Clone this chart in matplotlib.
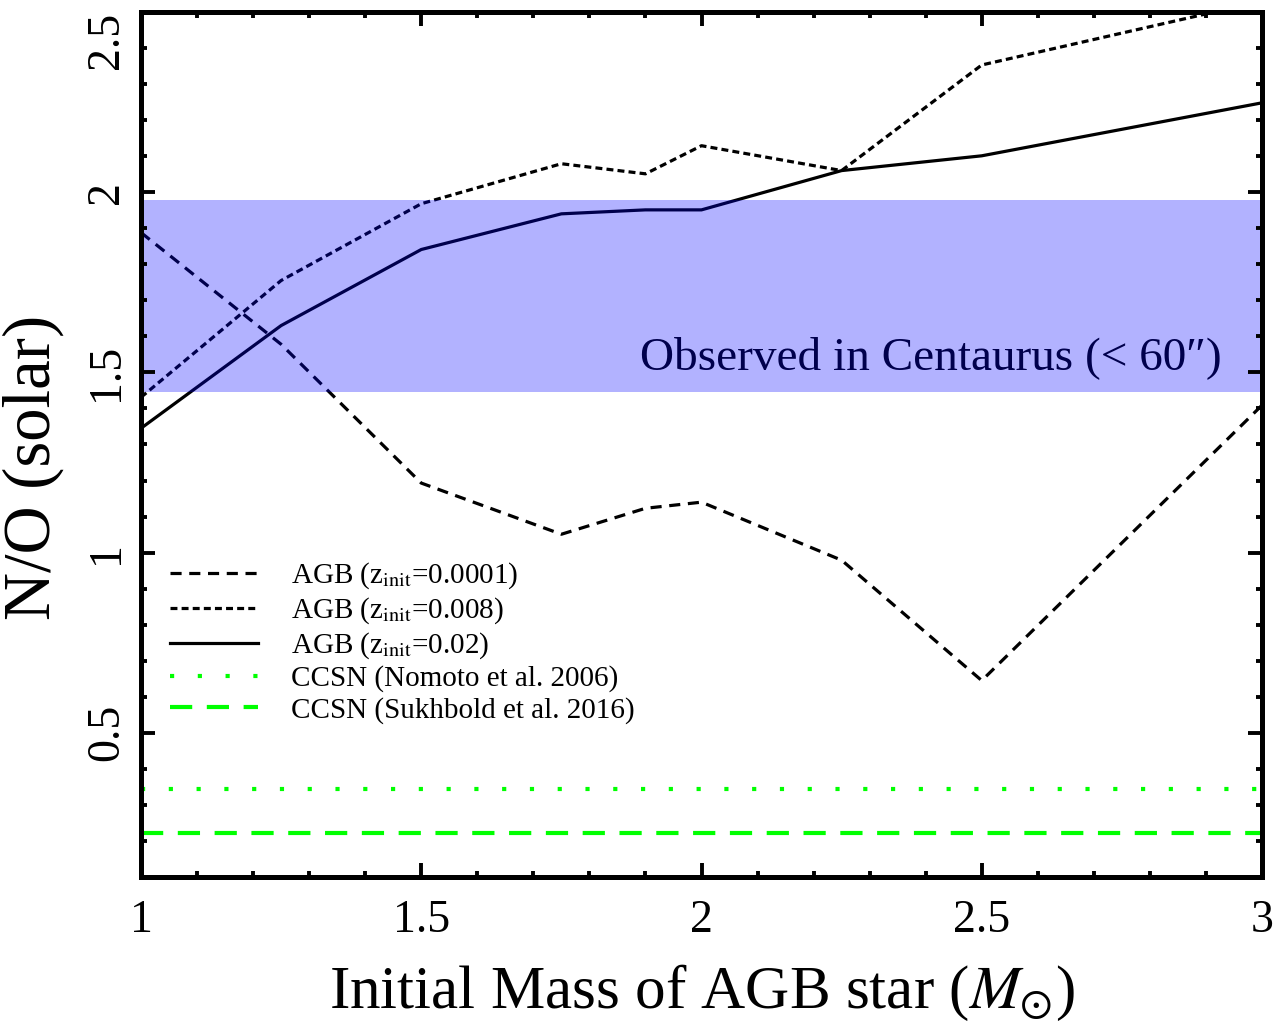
import numpy as np
import matplotlib
matplotlib.use("Agg")
import matplotlib.pyplot as plt
from matplotlib.ticker import MultipleLocator, FuncFormatter

plt.rcParams['font.family'] = ['Liberation Serif', 'DejaVu Serif']
plt.rcParams['mathtext.fontset'] = 'stix'
plt.rcParams['lines.scale_dashes'] = False

# Data
mass = [1.0, 1.25, 1.5, 1.75, 1.9, 2.0, 2.25, 2.5, 3.0]
no_z0001 = [1.888, 1.578, 1.193, 1.051, 1.123, 1.140, 0.979, 0.645, 1.409]
no_z008 = [1.431, 1.755, 1.968, 2.079, 2.051, 2.129, 2.060, 2.353, 2.53]
no_z02 = [1.345, 1.630, 1.841, 1.940, 1.951, 1.951, 2.060, 2.101, 2.248]
ccsn_nomoto = 0.345
ccsn_sukhbold = 0.223
obs_low, obs_high = 1.445, 1.978

labels = [r'AGB (z$_{\rm init}$=0.0001)', r'AGB (z$_{\rm init}$=0.008)',
          r'AGB (z$_{\rm init}$=0.02)', 'CCSN (Nomoto et al. 2006)',
          'CCSN (Sukhbold et al. 2016)']

fig = plt.figure(figsize=(12.83, 10.25), dpi=100)
ax = fig.add_axes([141/1283, 1-877/1025, (1262-141)/1283, (877-12)/1025])

ax.plot(mass, no_z0001, color='black', lw=2.3, dashes=(8, 5.5), label=labels[0], zorder=2)
ax.plot(mass, no_z008, color='black', lw=2.3, dashes=(5, 3), label=labels[1], zorder=2)
ax.plot(mass, no_z02, color='black', lw=2.3, ls='-', label=labels[2], zorder=2)
ax.axhline(ccsn_nomoto, color='#00ff00', lw=3, dashes=(3, 17), label=labels[3], zorder=2)
ax.axhline(ccsn_sukhbold, color='#00ff00', lw=3, dashes=(16, 10.5), label=labels[4], zorder=2)

ax.text(2.929, 1.54, 'Observed in Centaurus (< 60\u2033)', ha='right', va='center',
        fontsize=34, color='black', zorder=2)
ax.axhspan(obs_low, obs_high, color='blue', alpha=0.3, lw=0, zorder=2.2)

ax.set_xlim(1, 3)
ax.set_ylim(0.1, 2.5)
ax.set_axisbelow(False)
ax.xaxis.set_major_locator(MultipleLocator(0.5))
ax.xaxis.set_minor_locator(MultipleLocator(0.1))
ax.yaxis.set_major_locator(MultipleLocator(0.5))
ax.yaxis.set_minor_locator(MultipleLocator(0.1))
fmt = FuncFormatter(lambda v, p: '%g' % v)
ax.xaxis.set_major_formatter(fmt)
ax.yaxis.set_major_formatter(fmt)

ax.tick_params(which='both', direction='in', top=True, right=True, width=2.8, labelsize=33)
ax.tick_params(which='major', length=10)
ax.tick_params(which='minor', length=4.5)
ax.tick_params(axis='x', pad=16)
ax.tick_params(axis='y', pad=9, labelrotation=90)
for s in ax.spines.values():
    s.set_linewidth(3.6)

ax.set_xlabel(r'Initial Mass of AGB star ($M_{\odot}$)', fontsize=44, labelpad=15)
ax.set_ylabel('N/O (solar)', fontsize=48)
ax.yaxis.set_label_coords(-0.069, 0.473)

fig.canvas.draw()
for lab in ax.get_yticklabels():
    lab.set_va('center')
    if lab.get_text() == '2.5':
        lab.set_va('top')

leg = ax.legend(loc='upper left', bbox_to_anchor=(0.026, 0.366), frameon=False, fontsize=21,
                handlelength=3.0, handletextpad=1.15, labelspacing=0.15, borderpad=0,
                borderaxespad=0)

fig.savefig('out.png', dpi=100)
